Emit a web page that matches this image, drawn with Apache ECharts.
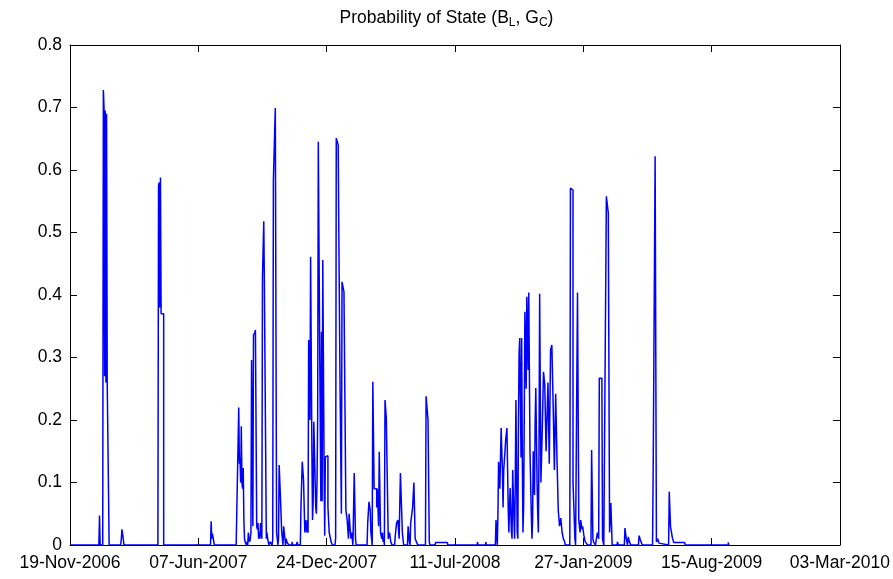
<!DOCTYPE html>
<html>
<head>
<meta charset="utf-8">
<script src="https://cdn.jsdelivr.net/npm/echarts@6/dist/echarts.min.js"></script>
<style>
html,body{margin:0;padding:0;background:#fff;}
#chart{width:893px;height:579px;}
</style>
</head>
<body>
<div id="chart"></div>
<script>
// Tick labels on the date axis (every 200 days starting 19-Nov-2006)
var dateTickLabels = ['19-Nov-2006','07-Jun-2007','24-Dec-2007','11-Jul-2008','27-Jan-2009','15-Aug-2009','03-Mar-2010'];
var dayTickStep = 200;
var yTickValues = [0,0.1,0.2,0.3,0.4,0.5,0.6,0.7,0.8];

// Day offsets from 19-Nov-2006
var dayOffsets = [
  0,45,46,47,51,52,53,54,55,56,57,58,59,60,61,
  79,80,81,82,83,84,
  137,138,139,140,141,142,143,144,145,146,
  219,220,221,222,223,224,225,
  255,256,258,259,
  262,263,264,265,266,267,268,269,270,271,272,273,274,275,276,277,278,279,280,281,
  282,283,284,285,286,287,288,289,290,291,292,293,294,295,296,297,298,299,
  300,301,302,303,304,305,306,307,308,309,310,
  312,313,315,316,317,318,319,320,321,322,323,324,325,326,327,328,329,330,331,332,
  333,334,335,336,337,338,340,341,346,347,353,354,355,359,
  360,361,362,363,364,365,366,367,368,369,370,371,372,373,374,375,376,377,378,379,
  380,381,382,383,384,385,386,387,388,389,390,391,392,393,394,395,396,397,398,399,
  400,401,402,403,404,405,406,407,408,409,413,414,415,416,417,418,419,420,421,422,
  423,424,425,426,427,428,429,430,431,432,433,434,435,436,437,438,439,440,441,442,
  443,444,445,446,458,460,463,464,465,466,467,468,469,470,471,472,473,474,475,476,
  477,478,479,480,481,482,483,484,485,486,487,488,489,490,491,492,493,494,495,496,
  497,498,499,500,501,502,506,507,508,509,510,511,512,513,514,515,516,517,518,519,
  520,526,527,528,529,530,531,532,533,534,535,536,537,538,539,540,541,542,
  554,555,556,557,558,559,560,561,569,570,588,589,635,636,648,649,
  663,664,665,666,667,668,669,670,671,672,673,674,675,676,677,678,679,680,681,682,
  683,684,685,686,687,688,689,690,691,692,693,694,695,696,697,698,699,700,701,702,
  703,704,705,706,707,708,709,710,711,712,713,714,715,716,717,718,719,720,721,722,
  723,724,725,726,727,728,729,730,731,732,733,734,735,736,737,738,739,740,741,742,
  743,744,745,746,747,748,749,750,751,752,753,754,755,756,757,758,759,760,761,762,
  763,764,765,766,767,768,769,770,771,772,
  779,780,781,782,783,784,785,786,787,788,
  790,791,792,793,794,795,796,797,798,799,800,801,802,803,806,807,
  812,813,814,815,816,818,819,821,822,823,824,825,826,827,828,829,830,831,832,
  835,836,837,838,839,840,841,842,843,844,845,853,854,855,
  864,865,866,867,868,869,870,871,872,873,874,
  886,887,888,889,890,891,892,
  908,909,910,911,912,913,914,915,916,917,918,919,
  933,934,935,936,937,938,939,940,941,958,959,1026,1027
];

// Probability of state (B_L, G_C) at each day offset
var stateProbability = [
  0,0,0.047,0,0,0.728,0.70,0.27,0.695,0.26,0.69,0.26,0.26,0.26,0,
  0,0.01,0.025,0.024,0.01,0,
  0,0.575,0.58,0.38,0.588,0.37,0.37,0.37,0.37,0,
  0,0.038,0.01,0.018,0.02,0.015,0,
  0,0.003,0.003,0,
  0,0.22,0.13,0.14,0.10,0.19,0.10,0.09,0.123,0.04,0.01,0.005,0.002,0,0.005,0,0.02,0.01,0.005,0.01,
  0.02,0.296,0.296,0.03,0.336,0.336,0.34,0.344,0.344,0.03,0.025,0.035,0.01,0.02,0.01,0.035,0.02,0.01,
  0.43,0.43,0.518,0.413,0.413,0.413,0.01,0.02,0.01,0.005,0,
  0.005,0.002,0,0.01,0.584,0.584,0.584,0.699,0.699,0.02,0.01,0,0.01,0.128,0.128,0.077,0.077,0.02,0.01,0,
  0.03,0.03,0.01,0,0.01,0.005,0.005,0,0.005,0,0,0.005,0,0,
  0.061,0.061,0.133,0.133,0.104,0.104,0.02,0.04,0.04,0.02,0.04,0.02,0.328,0.328,0.2,0.461,0.461,0.155,0.04,0.07,
  0.197,0.197,0.197,0.06,0.05,0.1,0.2,0.645,0.645,0.341,0.341,0.07,0.341,0.07,0.456,0.456,0.128,0.015,0.141,0.141,
  0.143,0.143,0.061,0.061,0.02,0.02,0.01,0.005,0.005,0,0,0.01,0.651,0.651,0.651,0.64,0.496,0.496,0.243,0.243,
  0.05,0.421,0.421,0.421,0.405,0.405,0.405,0.056,0.056,0.04,0.04,0.01,0.05,0.05,0.02,0.01,0.02,0.02,0,0,
  0.115,0.115,0.01,0,0.003,0,0,0.035,0.035,0.069,0.069,0.055,0.02,0.01,0,0.261,0.261,0.09,0.09,0.09,
  0.09,0.06,0.09,0.09,0.03,0.149,0.149,0.02,0.02,0.01,0.02,0.005,0.01,0,0.232,0.232,0.203,0.203,0.203,0.01,
  0.01,0.02,0.02,0.005,0.005,0,0,0.015,0.015,0.035,0.035,0.04,0.04,0.01,0.01,0.115,0.115,0.115,0.02,0.01,
  0,0,0.03,0.03,0.005,0,0.035,0.035,0.035,0.06,0.06,0.1,0.1,0.01,0.01,0.005,0.005,0,
  0,0.238,0.238,0.238,0.2,0.2,0.005,0,0,0.004,0.004,0,0.005,0,0.005,0,
  0,0.04,0.04,0,0.05,0.133,0.133,0.09,0.14,0.187,0.187,0.117,0.06,0.12,0.12,0.15,0.168,0.168,0.187,0.187,
  0.06,0.02,0.06,0.091,0.091,0.02,0.01,0.12,0.12,0.04,0.01,0.1,0.232,0.232,0.02,0.01,0.2,0.309,0.331,0.331,
  0.14,0.331,0.14,0.02,0.06,0.2,0.373,0.373,0.25,0.397,0.397,0.28,0.404,0.404,0.147,0.147,0.05,0.01,0.04,0.15,
  0.15,0.08,0.2,0.251,0.251,0.1,0.05,0.02,0.15,0.402,0.402,0.1,0.1,0.18,0.18,0.277,0.277,0.256,0.256,0.15,
  0.15,0.15,0.26,0.26,0.13,0.13,0.312,0.312,0.32,0.32,0.227,0.227,0.12,0.12,0.242,0.242,0.14,0.14,0.056,0.056,
  0.03,0.03,0.043,0.043,0.02,0.02,0.01,0.01,0.005,0,
  0,0.571,0.571,0.568,0.568,0.101,0.101,0.101,0.01,0,
  0,0.404,0.404,0.04,0.04,0.02,0.04,0.04,0.025,0.03,0.03,0.015,0.015,0.005,0.005,0,
  0,0.152,0.152,0.01,0.005,0.005,0,0,0.02,0.02,0.01,0.267,0.267,0.267,0.267,0.267,0.01,0.01,0,
  0,0.558,0.558,0.558,0.531,0.531,0.02,0.02,0.067,0.067,0,0.005,0.005,0,
  0,0.027,0.027,0.01,0.01,0,0.013,0.013,0.005,0.005,0,
  0,0.015,0.015,0.008,0.005,0.005,0,
  0,0.125,0.125,0.125,0.622,0.622,0.005,0.005,0.01,0.01,0.003,0,
  0,0.085,0.085,0.029,0.029,0.029,0.011,0.011,0.004,0.004,0,0.004,0
];

var seriesData = dayOffsets.map(function (d, i) { return [d, stateProbability[i]]; });
if (dayOffsets.length !== stateProbability.length) { console.error('length mismatch', dayOffsets.length, stateProbability.length); }

var FONT = 'Liberation Sans';
var chart = echarts.init(document.getElementById('chart'), null, {renderer: 'canvas'});
var xMax = dayTickStep * (dateTickLabels.length - 1);
var commonAxisLine = {show: true, onZero: false, lineStyle: {color: '#000', width: 1}};
var commonTick = {show: true, inside: true, length: 7, lineStyle: {color: '#000', width: 1}};

chart.setOption({
  animation: false,
  backgroundColor: '#fff',
  title: {
    text: 'Probability of State (B{sub|L}, G{sub|C})',
    left: 'center',
    top: 2,
    textStyle: {
      fontFamily: FONT, fontSize: 17.5, fontWeight: 'normal', color: '#000',
      rich: {sub: {fontFamily: FONT, fontSize: 12, color: '#000', padding: [10, 0, 0, 0]}}
    }
  },
  grid: {left: 70, right: 51, top: 45, bottom: 34, containLabel: false, show: false},
  xAxis: [{
    type: 'value', min: 0, max: xMax, interval: dayTickStep, position: 'bottom', z: 10,
    axisLine: commonAxisLine, axisTick: commonTick,
    axisLabel: {show: true, color: '#000', fontFamily: FONT, fontSize: 17.5, margin: 9,
      formatter: function (v) { return dateTickLabels[Math.round(v / dayTickStep)]; }},
    splitLine: {show: false}
  }, {
    type: 'value', min: 0, max: xMax, interval: dayTickStep, position: 'top', z: 10,
    axisLine: commonAxisLine, axisTick: commonTick, axisLabel: {show: false}, splitLine: {show: false}
  }],
  yAxis: [{
    type: 'value', min: yTickValues[0], max: yTickValues[yTickValues.length - 1], interval: 0.1, position: 'left', z: 10,
    axisLine: commonAxisLine, axisTick: commonTick,
    axisLabel: {show: true, color: '#000', fontFamily: FONT, fontSize: 17.5, margin: 8,
      formatter: function (v) { return v === 0 ? '0' : v.toFixed(1); }},
    splitLine: {show: false}
  }, {
    type: 'value', min: yTickValues[0], max: yTickValues[yTickValues.length - 1], interval: 0.1, position: 'right', z: 10,
    axisLine: commonAxisLine, axisTick: commonTick, axisLabel: {show: false}, splitLine: {show: false}
  }],
  series: [{
    type: 'line',
    step: 'end',
    data: seriesData,
    xAxisIndex: 0, yAxisIndex: 0,
    showSymbol: false, symbol: 'none',
    lineStyle: {color: '#0000ff', width: 1.5},
    itemStyle: {color: '#0000ff'}
  }]
});
</script>
</body>
</html>
